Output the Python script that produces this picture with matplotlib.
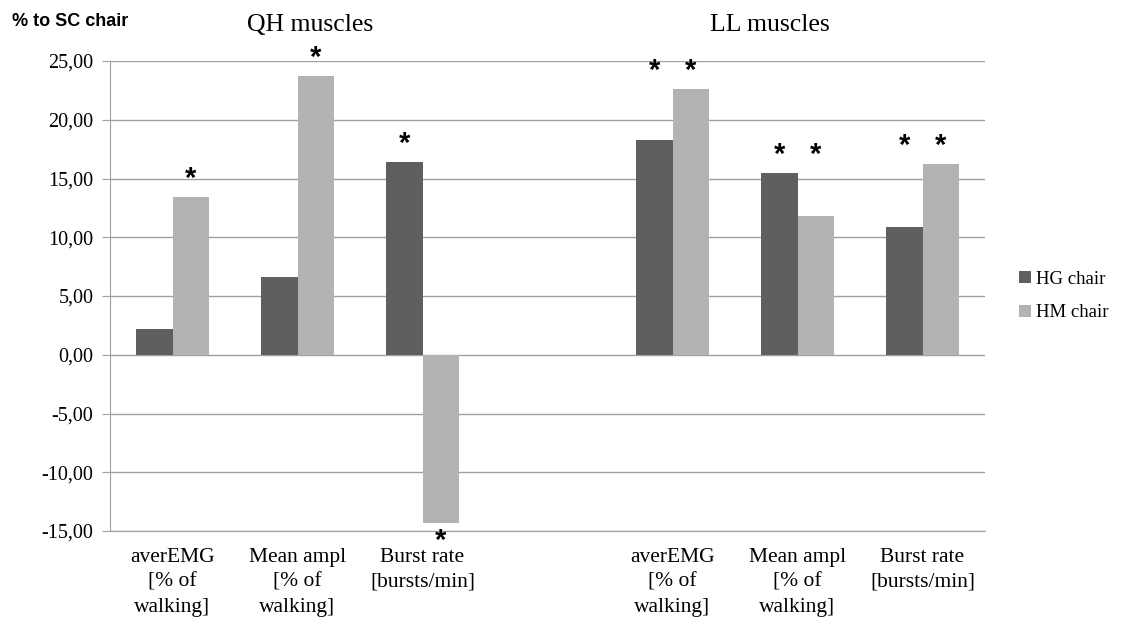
import matplotlib.pyplot as plt
import numpy as np

categories = ["averEMG\n[% of\nwalking]", "Mean ampl\n[% of\nwalking]", "Burst rate\n[bursts/min]", "",
              "averEMG\n[% of\nwalking]", "Mean ampl\n[% of\nwalking]", "Burst rate\n[bursts/min]"]
hg_values = [2.2, 6.6, 16.4, np.nan, 18.3, 15.5, 10.9]
hm_values = [13.4, 23.7, -14.3, np.nan, 22.6, 11.8, 16.2]
# significance stars: 1 = star on that bar
hg_star = [0, 0, 1, 0, 1, 1, 1]
hm_star = [1, 1, 1, 0, 1, 1, 1]
yticks = [25, 20, 15, 10, 5, 0, -5, -10, -15]

dark = "#5f5f5f"
light = "#b3b3b3"
grid_col = "#a0a0a0"
serif = "Liberation Serif"

fig = plt.figure(figsize=(11.24, 6.24), dpi=100)
ax = fig.add_axes([110 / 1124, 1 - 531 / 624, 875 / 1124, 470 / 624])

x = np.arange(len(categories))
w = 0.29
b1 = ax.bar(x - w / 2, hg_values, w, color=dark, label="HG chair", zorder=3)
b2 = ax.bar(x + w / 2, hm_values, w, color=light, label="HM chair", zorder=3)


def star(xi, y, up=True):
    ax.annotate("*", (xi, y), xytext=(0, 3 if up else -23), textcoords="offset points",
                ha="center", va="bottom", fontsize=21, fontweight="bold",
                family="Liberation Sans")


for i in range(len(categories)):
    g, m = hg_values[i], hm_values[i]
    if hg_star[i] and hm_star[i] and g > 0 and m > 0:
        # both starred: stars sit level above the taller bar
        top = max(g, m)
        star(x[i] - w / 2, top)
        star(x[i] + w / 2, top)
        continue
    if hg_star[i]:
        star(x[i] - w / 2, g, g >= 0)
    if hm_star[i]:
        star(x[i] + w / 2, m, m >= 0)

ax.set_xlim(-0.5, len(categories) - 0.5)
ax.set_ylim(-15, 25)
ax.set_yticks(yticks)
ax.set_yticklabels([f"{t:.2f}".replace(".", ",") for t in yticks], family=serif, fontsize=14.5)
ax.set_xticks(x)
ax.set_xticklabels(categories, family=serif, fontsize=15.5, linespacing=1.45)
ax.tick_params(axis="x", length=0, pad=12)
ax.tick_params(axis="y", length=6, color=grid_col, pad=6)
ax.yaxis.grid(True, color=grid_col, linewidth=1, zorder=0)
ax.set_axisbelow(True)
for s in ["top", "right"]:
    ax.spines[s].set_visible(False)
ax.spines["left"].set_color(grid_col)
ax.spines["bottom"].set_color(grid_col)

fig.text(12 / 1124, 1 - 22 / 624, "% to SC chair", family="Liberation Sans", fontweight="bold",
         fontsize=13, va="center", ha="left")
ax.text(1.1, 28.1, "QH muscles", family=serif, fontsize=18.5, ha="center", va="center")
ax.text(4.78, 28.1, "LL muscles", family=serif, fontsize=18.5, ha="center", va="center")

ax.legend(handles=[b1, b2], loc="center left", bbox_to_anchor=(1.02, 0.5), frameon=False,
          prop={"family": serif, "size": 13.5}, handlelength=0.6, handleheight=0.6,
          handletextpad=0.3, labelspacing=0.9)

fig.savefig("out.png", dpi=100)
